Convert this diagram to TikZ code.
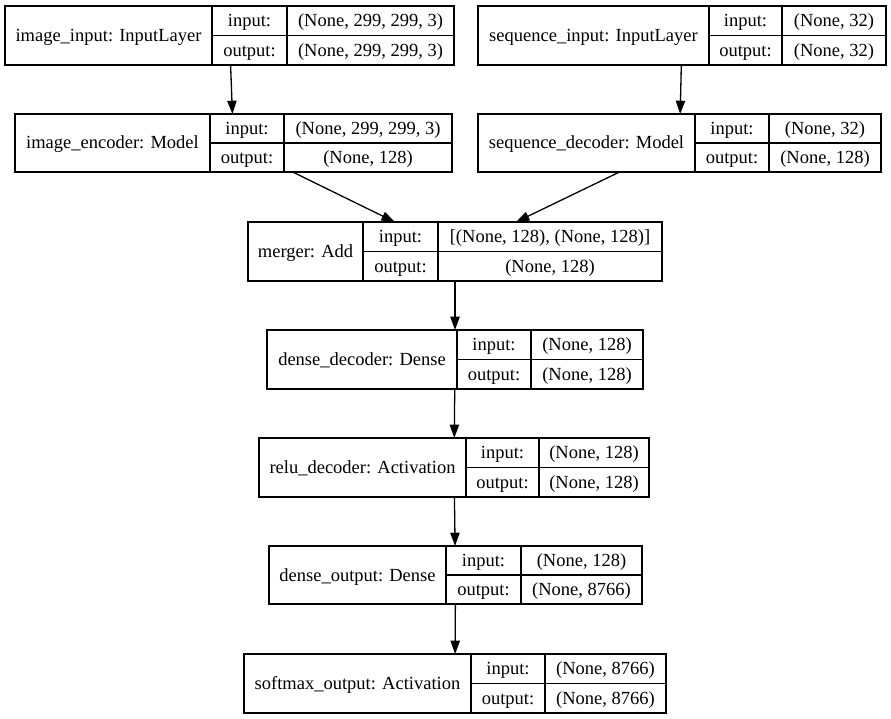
\documentclass[tikz,border=0pt]{standalone}
\usepackage{fontspec}
\setmainfont{Liberation Serif}
\usetikzlibrary{arrows.meta}

% A layer record: name cell on the left, input/output keys and shapes on the right.
% \layerbox{node}{left}{div1}{div2}{right}{top}{bottom}{label}{input shape}{output shape}
\newcommand\layerbox[7]{%
  \def\lbN{#1}\def\lbL{#2}\def\lbA{#3}\def\lbB{#4}\def\lbR{#5}\def\lbT{#6}\def\lbD{#7}%
  \layerboxtext}
\newcommand\layerboxtext[3]{%
  \pgfmathsetmacro\lbW{\lbR-\lbL}%
  \pgfmathsetmacro\lbH{\lbD-\lbT}%
  \pgfmathsetmacro\lbM{(\lbT+\lbD)/2}%
  \node[rec, minimum width=\lbW pt, minimum height=\lbH pt, anchor=north west] (\lbN) at (\lbL,\lbT) {};
  \draw[cell] (\lbA,\lbT) -- (\lbA,\lbD) (\lbB,\lbT) -- (\lbB,\lbD) (\lbA,\lbM) -- (\lbR,\lbM);
  \node[txt] (\lbN-name) at ({(\lbL+\lbA)/2},{\lbM+6}) {#1};
  \node[txt] (\lbN-inkey) at ({(\lbA+\lbB)/2},{(\lbT+\lbM)/2+6}) {input:};
  \node[txt] (\lbN-in) at ({(\lbB+\lbR)/2},{(\lbT+\lbM)/2+6}) {#2};
  \node[txt] (\lbN-outkey) at ({(\lbA+\lbB)/2},{(\lbM+\lbD)/2+6}) {output:};
  \node[txt] (\lbN-out) at ({(\lbB+\lbR)/2},{(\lbM+\lbD)/2+6}) {#3};
}

\begin{document}
\begin{tikzpicture}[x=1pt,y=-1pt,
  rec/.style={rectangle, draw=black, line width=1.3pt, inner sep=0pt, outer sep=0pt},
  cell/.style={draw=black, line width=1.3pt},
  txt/.style={anchor=base, inner sep=0pt, font=\fontsize{18.5}{22}\selectfont},
  edge/.style={draw=black, line width=1.3pt, -{Triangle[length=13.3pt,width=9.3pt]}}]
\useasboundingbox[fill=white] (0,0) rectangle (891,719);

\layerbox{inpimg}{5}{212}{287}{454}{6}{65}{image\_input: InputLayer}{(None, 299, 299, 3)}{(None, 299, 299, 3)}
\layerbox{inpseq}{478}{709}{782}{886}{6}{65}{sequence\_input: InputLayer}{(None, 32)}{(None, 32)}
\layerbox{encimg}{15}{210}{284}{452}{114}{172}{image\_encoder: Model}{(None, 299, 299, 3)}{(None, 128)}
\layerbox{decseq}{478}{695}{769}{881}{114}{172}{sequence\_decoder: Model}{(None, 32)}{(None, 128)}
\layerbox{merger}{248}{363}{438}{662}{222}{281}{merger: Add}{[(None, 128), (None, 128)]}{(None, 128)}
\layerbox{densedec}{267}{457}{531}{643}{330}{389}{dense\_decoder: Dense}{(None, 128)}{(None, 128)}
\layerbox{reludec}{259}{466}{539}{649}{438}{497}{relu\_decoder: Activation}{(None, 128)}{(None, 128)}
\layerbox{denseout}{269}{446}{521}{642}{546}{604}{dense\_output: Dense}{(None, 128)}{(None, 8766)}
\layerbox{softmaxout}{244}{471}{545}{666}{654}{713}{softmax\_output: Activation}{(None, 8766)}{(None, 8766)}

% data flow between layers
\draw[edge] (inpimg) -- (encimg);
\draw[edge] (inpseq) -- (decseq);
\draw[edge] (encimg) -- (merger);
\draw[edge] (decseq) -- (merger);
\draw[edge] (merger) -- (densedec);
\draw[edge] (densedec) -- (reludec);
\draw[edge] (reludec) -- (denseout);
\draw[edge] (denseout) -- (softmaxout);
\end{tikzpicture}
\end{document}
